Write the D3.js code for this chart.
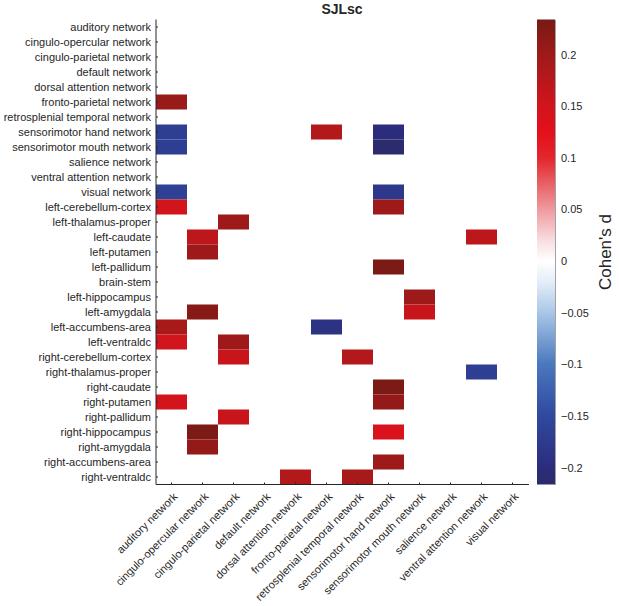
<!DOCTYPE html>
<html>
<head>
<meta charset="utf-8">
<script src="https://cdn.jsdelivr.net/npm/d3@7"></script>
<style>
	body { margin: 0; background: white; }
	text { font-family: "Liberation Sans", Arial, sans-serif; fill: #262626; }
</style>
</head>
<body>
<div id="chart"></div>
<script>
const title = 'SJLsc';

const networks = [
	'auditory network', 'cingulo-opercular network', 'cingulo-parietal network',
	'default network', 'dorsal attention network', 'fronto-parietal network',
	'retrosplenial temporal network', 'sensorimotor hand network',
	'sensorimotor mouth network', 'salience network', 'ventral attention network',
	'visual network'
];

const rowLabels = networks.concat([
	'left-cerebellum-cortex', 'left-thalamus-proper', 'left-caudate', 'left-putamen',
	'left-pallidum', 'brain-stem', 'left-hippocampus', 'left-amygdala',
	'left-accumbens-area', 'left-ventraldc', 'right-cerebellum-cortex',
	'right-thalamus-proper', 'right-caudate', 'right-putamen', 'right-pallidum',
	'right-hippocampus', 'right-amygdala', 'right-accumbens-area', 'right-ventraldc'
]);

// significant cells only: [row, column, Cohen's d]
const cells = [
	['fronto-parietal network', 'auditory network', 0.205],
	['sensorimotor hand network', 'auditory network', -0.17],
	['sensorimotor mouth network', 'auditory network', -0.17],
	['sensorimotor hand network', 'fronto-parietal network', 0.18],
	['sensorimotor hand network', 'sensorimotor hand network', -0.2],
	['sensorimotor mouth network', 'sensorimotor hand network', -0.213],
	['visual network', 'auditory network', -0.165],
	['visual network', 'sensorimotor hand network', -0.18],
	['left-cerebellum-cortex', 'auditory network', 0.15],
	['left-cerebellum-cortex', 'sensorimotor hand network', 0.2],
	['left-thalamus-proper', 'cingulo-parietal network', 0.2],
	['left-caudate', 'cingulo-opercular network', 0.17],
	['left-caudate', 'ventral attention network', 0.17],
	['left-putamen', 'cingulo-opercular network', 0.2],
	['left-pallidum', 'sensorimotor hand network', 0.23],
	['left-hippocampus', 'sensorimotor mouth network', 0.2],
	['left-amygdala', 'sensorimotor mouth network', 0.16],
	['left-amygdala', 'cingulo-opercular network', 0.22],
	['left-accumbens-area', 'auditory network', 0.19],
	['left-accumbens-area', 'fronto-parietal network', -0.19],
	['left-ventraldc', 'auditory network', 0.15],
	['left-ventraldc', 'cingulo-parietal network', 0.2],
	['right-cerebellum-cortex', 'cingulo-parietal network', 0.16],
	['right-cerebellum-cortex', 'retrosplenial temporal network', 0.18],
	['right-thalamus-proper', 'ventral attention network', -0.17],
	['right-caudate', 'sensorimotor hand network', 0.23],
	['right-putamen', 'auditory network', 0.15],
	['right-putamen', 'sensorimotor hand network', 0.21],
	['right-pallidum', 'cingulo-parietal network', 0.16],
	['right-hippocampus', 'cingulo-opercular network', 0.23],
	['right-hippocampus', 'sensorimotor hand network', 0.14],
	['right-amygdala', 'cingulo-opercular network', 0.21],
	['right-accumbens-area', 'sensorimotor hand network', 0.2],
	['right-ventraldc', 'dorsal attention network', 0.18],
	['right-ventraldc', 'retrosplenial temporal network', 0.19]
];

const colorDomain = [-0.2165, 0.234];
const colorTicks = [-0.2, -0.15, -0.1, -0.05, 0, 0.05, 0.1, 0.15, 0.2];
const colorStops = [
	[-0.2165, '#2b2a6a'], [-0.2, '#2b2d7c'], [-0.15, '#3049a0'], [-0.1, '#4a78be'],
	[-0.05, '#a9c6e8'], [-0.02, '#e4eef8'], [0, '#ffffff'], [0.02, '#f8dde0'],
	[0.05, '#ee9aa0'], [0.1, '#e3262c'], [0.125, '#e3101a'], [0.15, '#d2141c'],
	[0.2, '#9e1a1a'], [0.234, '#781a14']
];

const width = 619, height = 606;
const margin = { left: 156, top: 19.5, right: 528 };
const plotH = 465;

const svg = d3.select('#chart').append('svg')
	.attr('width', width)
	.attr('height', height);

const x = d3.scaleBand().domain(networks).range([margin.left, margin.right]);
const y = d3.scaleBand().domain(rowLabels).range([margin.top, margin.top + plotH]);
const color = d3.scaleLinear()
	.domain(colorStops.map(d => d[0]))
	.range(colorStops.map(d => d[1]))
	.clamp(true);

svg.append('g')
	.selectAll('rect')
	.data(cells)
	.enter()
	.append('rect')
	.attr('x', d => x(d[1]))
	.attr('y', d => y(d[0]))
	.attr('width', x.bandwidth())
	.attr('height', y.bandwidth())
	.attr('fill', d => color(d[2]));

// axes, MATLAB style: only left and bottom lines
const yAxis = svg.append('g')
	.attr('transform', `translate(${margin.left},0)`)
	.call(d3.axisLeft(y).tickSize(-2).tickPadding(5));
yAxis.select('.domain').attr('stroke', '#262626').attr('d', `M0,${margin.top}V${margin.top + plotH}`);
yAxis.selectAll('.tick line').attr('stroke', '#262626');
yAxis.selectAll('text').attr('font-size', 11).attr('fill', '#262626');

const xAxis = svg.append('g')
	.attr('transform', `translate(0,${margin.top + plotH})`)
	.call(d3.axisBottom(x).tickSize(-2).tickPadding(0));
xAxis.select('.domain').attr('stroke', '#262626').attr('d', `M${margin.left},0H${margin.right + 1}`);
xAxis.selectAll('.tick line').attr('stroke', '#262626');
xAxis.selectAll('text')
	.attr('font-size', 11)
	.attr('fill', '#262626')
	.attr('text-anchor', 'end')
	.attr('dy', '0.35em')
	.attr('transform', 'translate(4,10) rotate(-45)');

svg.append('text')
	.attr('x', (margin.left + margin.right) / 2)
	.attr('y', 14)
	.attr('text-anchor', 'middle')
	.attr('font-size', 14)
	.attr('font-weight', 'bold')
	.attr('fill', '#000')
	.text(title);

// colorbar
const cbX = 537, cbW = 18;
const cbScale = d3.scaleLinear().domain(colorDomain).range([margin.top + plotH, margin.top]);
const grad = svg.append('defs').append('linearGradient')
	.attr('id', 'cb')
	.attr('x1', 0).attr('y1', 1).attr('x2', 0).attr('y2', 0);
grad.selectAll('stop')
	.data(colorStops)
	.enter()
	.append('stop')
	.attr('offset', d => (d[0] - colorDomain[0]) / (colorDomain[1] - colorDomain[0]))
	.attr('stop-color', d => d[1]);

svg.append('rect')
	.attr('x', cbX)
	.attr('y', margin.top)
	.attr('width', cbW)
	.attr('height', plotH)
	.attr('fill', 'url(#cb)');

const cbAxis = svg.append('g')
	.attr('transform', `translate(${cbX + cbW},0)`)
	.call(d3.axisRight(cbScale).tickValues(colorTicks).tickSize(0).tickPadding(6)
		.tickFormat(d => d3.format('')(+d.toFixed(2))));
cbAxis.select('.domain').attr('stroke', '#8a8a8a').attr('stroke-width', 0.8);
cbAxis.selectAll('text').attr('font-size', 11).attr('fill', '#262626');

svg.append('text')
	.attr('transform', `translate(611,${margin.top + plotH / 2}) rotate(-90)`)
	.attr('text-anchor', 'middle')
	.attr('font-size', 17)
	.attr('fill', '#000')
	.text("Cohen's d");
</script>
</body>
</html>
